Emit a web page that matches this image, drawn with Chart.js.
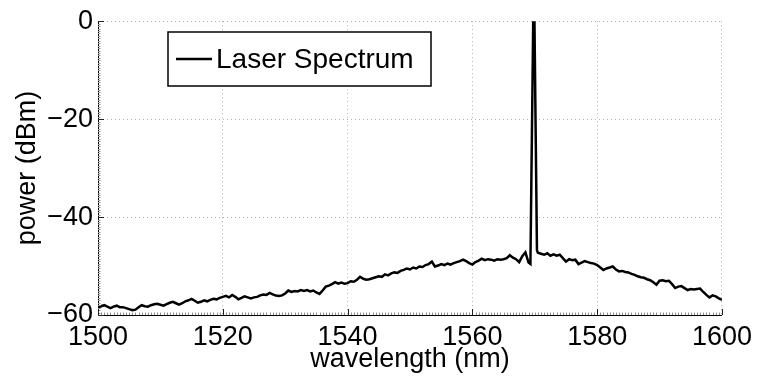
<!DOCTYPE html>
<html>
<head>
<meta charset="utf-8">
<script src="https://cdn.jsdelivr.net/npm/chart.js@4.4.1/dist/chart.umd.min.js"></script>
<style>
  html, body { margin: 0; padding: 0; background: #fff; }
</style>
</head>
<body>
<canvas id="spectrumChart" width="758" height="379"></canvas>
<script>
// values (0.5 nm steps, extra points on the laser line)
const wavelengths = [
  1500, 1500.5, 1501, 1501.5, 1502, 1502.5, 1503, 1503.5, 1504, 1504.5,
  1505, 1505.5, 1506, 1506.5, 1507, 1507.5, 1508, 1508.5, 1509, 1509.5,
  1510, 1510.5, 1511, 1511.5, 1512, 1512.5, 1513, 1513.5, 1514, 1514.5,
  1515, 1515.5, 1516, 1516.5, 1517, 1517.5, 1518, 1518.5, 1519, 1519.5,
  1520, 1520.5, 1521, 1521.5, 1522, 1522.5, 1523, 1523.5, 1524, 1524.5,
  1525, 1525.5, 1526, 1526.5, 1527, 1527.5, 1528, 1528.5, 1529, 1529.5,
  1530, 1530.5, 1531, 1531.5, 1532, 1532.5, 1533, 1533.5, 1534, 1534.5,
  1535, 1535.5, 1536, 1536.5, 1537, 1537.5, 1538, 1538.5, 1539, 1539.5,
  1540, 1540.5, 1541, 1541.5, 1542, 1542.5, 1543, 1543.5, 1544, 1544.5,
  1545, 1545.5, 1546, 1546.5, 1547, 1547.5, 1548, 1548.5, 1549, 1549.5,
  1550, 1550.5, 1551, 1551.5, 1552, 1552.5, 1553, 1553.5, 1554, 1554.5,
  1555, 1555.5, 1556, 1556.5, 1557, 1557.5, 1558, 1558.5, 1559, 1559.5,
  1560, 1560.5, 1561, 1561.5, 1562, 1562.5, 1563, 1563.5, 1564, 1564.5,
  1565, 1565.5, 1566, 1566.5, 1567, 1567.5, 1568, 1568.5, 1569,
  1569.3, 1569.75, 1569.95, 1570.35,
  1570.5, 1571, 1571.5, 1572, 1572.5, 1573, 1573.5, 1574, 1574.5,
  1575, 1575.5, 1576, 1576.5, 1577, 1577.5, 1578, 1578.5, 1579, 1579.5,
  1580, 1580.5, 1581, 1581.5, 1582, 1582.5, 1583, 1583.5, 1584, 1584.5,
  1585, 1585.5, 1586, 1586.5, 1587, 1587.5, 1588, 1588.5, 1589, 1589.5,
  1590, 1590.5, 1591, 1591.5, 1592, 1592.5, 1593, 1593.5, 1594, 1594.5,
  1595, 1595.5, 1596, 1596.5, 1597, 1597.5, 1598, 1598.5, 1599, 1599.5,
  1600
];
const power = [
  -58.6, -58.2, -58.0, -58.3, -58.6, -58.3, -58.1, -58.4, -58.4, -58.6,
  -58.8, -59.0, -58.9, -58.4, -58.0, -58.2, -58.3, -58.0, -57.8, -57.7,
  -57.9, -58.1, -57.8, -57.5, -57.3, -57.6, -57.9, -57.6, -57.2, -57.0,
  -56.7, -57.1, -57.5, -57.3, -57.0, -57.2, -56.9, -56.7, -56.8, -56.5,
  -56.3, -56.1, -56.4, -55.9, -56.3, -56.8, -56.5, -56.2, -56.4, -56.6,
  -56.4, -56.3, -56.0, -55.8, -55.9, -55.5, -55.8, -56.0, -56.1, -56.0,
  -55.6, -55.0, -55.3, -55.1, -55.2, -54.9, -55.1, -54.9, -55.2, -55.0,
  -55.4, -55.7, -55.0, -54.2, -54.0, -53.7, -53.3, -53.6, -53.4, -53.6,
  -53.5, -53.1, -53.2, -52.8, -52.2, -52.6, -52.8, -52.7, -52.5, -52.3,
  -52.1, -52.2, -51.7, -51.9, -51.5, -51.3, -51.4, -51.0, -50.8, -50.5,
  -50.7, -50.3, -50.5, -50.1, -50.2, -49.8, -49.6, -49.1, -50.1, -49.9,
  -49.6, -49.8, -49.5, -49.7, -49.4, -49.2, -49.0, -48.7, -49.0, -49.4,
  -49.7, -49.2, -48.9, -48.5, -48.8, -48.6, -48.7, -48.9, -48.6, -48.7,
  -48.6, -48.4, -47.8, -48.3, -48.6, -49.2, -48.0, -47.2, -49.3,
  -49.6, 0, 0, -46.8,
  -47.3, -47.5, -47.7, -47.4, -47.9, -47.6, -47.9, -47.7, -48.4,
  -49.1, -48.6, -48.8, -48.7, -49.6, -49.3, -49.0, -49.2, -49.4, -49.5,
  -49.8, -50.3, -50.8, -50.5, -50.3, -50.1, -50.7, -51.1, -51.0, -51.2,
  -51.3, -51.6, -51.8, -52.1, -52.3, -52.4, -52.7, -52.9, -53.3, -53.8,
  -53.0, -52.9, -53.1, -53.0, -53.7, -54.5, -54.2, -54.1, -54.5, -54.9,
  -54.7, -54.8, -54.7, -54.6, -55.3, -55.9, -56.4, -56.0, -56.2, -56.6,
  -56.9
];
const xTickValues = [1500, 1520, 1540, 1560, 1580, 1600];
const yTickValues = [-60, -40, -20, 0];
const seriesName = 'Laser Spectrum';
const xTitle = 'wavelength (nm)';
const yTitle = 'power (dBm)';

const fontFamily = '"Liberation Sans", Arial, Helvetica, sans-serif';

// matlab style: ticks inside the axes, dense minor ticks
const axisMarks = {
    id: 'axisMarks',
    afterDatasetsDraw(chart) {
        const { ctx, chartArea: area, scales: { x, y } } = chart;
        ctx.save();
        ctx.lineWidth = 1;
        ctx.strokeStyle = '#909090';
        ctx.beginPath();
        for (let v = x.min; v <= x.max; v += 0.5) {
            const px = Math.round(x.getPixelForValue(v)) + 0.5;
            ctx.moveTo(px, area.bottom);
            ctx.lineTo(px, area.bottom - 2.5);
        }
        for (let v = y.min; v <= y.max; v += 0.5) {
            const py = Math.round(y.getPixelForValue(v)) + 0.5;
            ctx.moveTo(area.left, py);
            ctx.lineTo(area.left + 2.5, py);
        }
        ctx.stroke();
        ctx.strokeStyle = '#222';
        ctx.beginPath();
        xTickValues.forEach(v => {
            const px = Math.round(x.getPixelForValue(v)) + 0.5;
            ctx.moveTo(px, area.bottom);
            ctx.lineTo(px, area.bottom - 6);
        });
        yTickValues.forEach(v => {
            const py = Math.round(y.getPixelForValue(v)) + 0.5;
            ctx.moveTo(area.left, py);
            ctx.lineTo(area.left + 6, py);
        });
        ctx.stroke();
        ctx.restore();
    }
};

// legend box sits inside the plot, top left
const boxLegend = {
    id: 'boxLegend',
    afterDraw(chart) {
        const ctx = chart.ctx;
        const ds = chart.data.datasets[0];
        const left = 168, top = 32, right = 431, bottom = 86;
        const midY = (top + bottom) / 2;
        ctx.save();
        ctx.fillStyle = '#fff';
        ctx.fillRect(left, top, right - left, bottom - top);
        ctx.lineWidth = 1.5;
        ctx.strokeStyle = '#000';
        ctx.strokeRect(left, top, right - left, bottom - top);
        ctx.lineWidth = ds.borderWidth;
        ctx.strokeStyle = ds.borderColor;
        ctx.beginPath();
        ctx.moveTo(176, midY);
        ctx.lineTo(212, midY);
        ctx.stroke();
        ctx.fillStyle = '#000';
        ctx.font = '28px ' + fontFamily;
        ctx.textBaseline = 'middle';
        ctx.fillText(ds.label, 216, midY + 1);
        ctx.restore();
    }
};

const points = wavelengths.map((w, i) => ({ x: w, y: power[i] }));

new Chart(document.getElementById('spectrumChart'), {
    type: 'line',
    data: {
        datasets: [{
            label: seriesName,
            data: points,
            borderColor: '#000',
            borderWidth: 2.5,
            pointRadius: 0,
            tension: 0,
            fill: false
        }]
    },
    options: {
        responsive: false,
        animation: false,
        layout: { padding: { top: 19, right: 35, left: 0, bottom: 0 } },
        plugins: {
            legend: { display: false },
            tooltip: { enabled: false }
        },
        scales: {
            x: {
                type: 'linear',
                min: 1500,
                max: 1600,
                afterBuildTicks: (scale) => { scale.ticks = xTickValues.map(v => ({ value: v })); },
                afterFit: (scale) => { scale.height = 64; },
                ticks: {
                    color: '#000',
                    font: { family: fontFamily, size: 27 },
                    padding: 6,
                    maxRotation: 0,
                    callback: (v) => String(v)
                },
                grid: { color: '#b0b0b0', lineWidth: 1, drawTicks: false },
                border: { display: true, color: '#000', width: 1, dash: [1, 3] },
                title: {
                    display: true,
                    text: xTitle,
                    color: '#000',
                    font: { family: fontFamily, size: 27 },
                    padding: { top: 0, bottom: 3 }
                }
            },
            y: {
                type: 'linear',
                min: -60,
                max: 0,
                afterBuildTicks: (scale) => { scale.ticks = yTickValues.map(v => ({ value: v })); },
                afterFit: (scale) => { scale.width = 98; },
                ticks: {
                    color: '#000',
                    font: { family: fontFamily, size: 27 },
                    padding: 5,
                    callback: (v) => String(v).replace('-', '\u2212')
                },
                grid: { color: '#b0b0b0', lineWidth: 1, drawTicks: false },
                border: { display: true, color: '#000', width: 1, dash: [1, 3] },
                title: {
                    display: true,
                    text: yTitle,
                    color: '#000',
                    font: { family: fontFamily, size: 27 },
                    padding: { top: 11, bottom: 0 }
                }
            }
        }
    },
    plugins: [axisMarks, boxLegend]
});
</script>
</body>
</html>
